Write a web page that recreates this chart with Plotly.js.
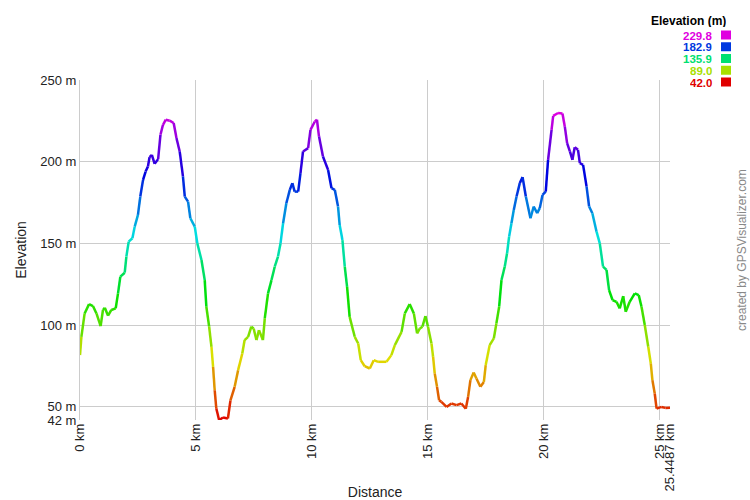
<!DOCTYPE html>
<html><head><meta charset="utf-8">
<script src="https://cdn.plot.ly/plotly-3.0.1.min.js"></script>
<style>html,body{margin:0;padding:0;background:#fff}#chart{width:750px;height:500px}</style>
</head><body><div id="chart"></div>
<script>
const distKm = [0.00,0.06,0.20,0.39,0.56,0.71,0.89,0.99,1.07,1.21,1.35,1.54,1.64,1.74,1.93,2.00,2.10,2.26,2.36,2.50,2.60,2.72,2.83,2.93,3.00,3.10,3.22,3.37,3.47,3.58,3.70,3.87,4.04,4.16,4.30,4.44,4.52,4.66,4.76,4.95,5.06,5.24,5.38,5.45,5.57,5.67,5.74,5.81,5.88,6.00,6.17,6.38,6.49,6.67,6.82,7.00,7.10,7.25,7.39,7.49,7.61,7.72,7.89,7.97,8.11,8.26,8.40,8.54,8.65,8.76,8.90,9.05,9.16,9.26,9.41,9.51,9.62,9.84,9.94,10.13,10.22,10.31,10.48,10.70,10.85,10.99,11.13,11.20,11.32,11.42,11.52,11.63,11.85,12.00,12.11,12.28,12.50,12.67,12.86,13.22,13.43,13.58,13.87,14.01,14.22,14.40,14.54,14.66,14.77,14.90,15.01,15.16,15.23,15.30,15.40,15.49,15.59,15.81,16.02,16.24,16.45,16.64,16.74,16.84,16.98,17.10,17.27,17.42,17.50,17.67,17.85,17.96,18.08,18.18,18.32,18.42,18.51,18.61,18.71,18.83,18.97,19.09,19.23,19.43,19.57,19.72,19.83,19.95,20.09,20.19,20.34,20.41,20.62,20.81,20.91,21.01,21.13,21.24,21.34,21.48,21.56,21.70,21.85,21.96,22.10,22.28,22.42,22.56,22.71,22.82,22.97,23.14,23.28,23.43,23.54,23.71,23.93,24.10,24.22,24.36,24.51,24.62,24.69,24.79,24.87,25.08,25.25,25.4487];
const elevM = [81.7,92.9,107.2,112.9,111.7,107.2,99.4,109.3,110.7,105.8,109.3,110.3,119.5,129.7,132.1,142.0,151.1,153.2,160.3,167.5,178.7,188.9,194.0,197.1,202.8,204.2,198.7,201.6,216.5,222.6,225.7,225.1,223.7,214.5,206.3,191.0,178.7,175.6,165.4,160.3,150.1,139.9,127.6,111.3,99.1,86.8,74.5,60.2,49.0,42.0,43.5,42.9,54.0,62.3,72.5,82.7,90.9,92.9,99.1,98.0,90.9,97.0,90.9,104.2,119.5,127.6,135.8,142.0,150.1,162.4,174.6,182.8,186.9,181.7,181.7,193.0,206.3,208.3,219.5,224.6,225.7,215.4,203.2,195.0,183.8,182.8,172.6,161.3,152.1,135.8,123.5,105.1,92.9,88.8,78.6,74.9,73.5,78.6,77.6,77.6,81.7,87.8,95.9,107.2,112.9,107.2,95.0,98.0,99.1,105.6,99.1,88.8,80.7,70.5,62.3,54.1,53.1,50.0,52.1,51.1,52.1,48.9,56.1,66.4,71.1,67.4,62.3,65.3,75.6,87.8,91.9,101.1,111.3,127.6,135.8,144.0,154.2,162.4,170.5,178.7,186.9,190.6,178.7,165.4,172.6,168.5,171.6,179.7,181.7,201.2,219.5,228.1,229.8,229.5,221.6,211.4,206.3,201.2,208.9,207.3,199.1,198.1,184.8,172.6,168.5,157.2,150.1,135.8,133.8,121.5,115.4,114.3,110.3,117.8,108.2,114.3,119.5,118.4,111.3,100.1,86.8,76.6,66.4,58.2,49.0,50.0,49.4,49.5];
const legendValues = [229.8,182.9,135.9,89.0,42.0];
const xTickVals = [0,5,10,15,20,25,25.4487];
const xTickText = ["0 km","5 km","10 km","15 km","20 km","25 km","25.4487 km"];
const yTickVals = [42,50,100,150,200,250];
const yTickText = ["42 m","50 m","100 m","150 m","200 m","250 m"];

const eMin = Math.min(...legendValues), eMax = Math.max(...legendValues);
function elevColor(e){
  const t = Math.max(0, Math.min(1, (e - eMin)/(eMax - eMin)));
  return 'hsl(' + (300*t).toFixed(1) + ',100%,44%)';
}

const traces = [];
for (let i = 0; i < distKm.length - 1; i++){
  traces.push({
    type:'scatter', mode:'lines',
    x:[distKm[i], distKm[i+1]], y:[elevM[i], elevM[i+1]],
    line:{color: elevColor((elevM[i]+elevM[i+1])/2), width:2.5},
    hoverinfo:'skip', showlegend:false
  });
}

const L = 80, T = 80, W = 590, H = 340;
const px2x = p => (p - L)/W;
const px2y = p => (T + H - p)/H;

const annotations = [{
  xref:'paper', yref:'paper', x:px2x(728), y:px2y(21), xanchor:'right', yanchor:'middle',
  text:'<b>Elevation (m)</b>', showarrow:false, height:12, font:{family:'Liberation Sans, Arial, sans-serif', size:12, color:'#000'}
},{
  xref:'paper', yref:'paper', x:px2x(742), y:px2y(250), xanchor:'center', yanchor:'middle',
  text:'created by GPSVisualizer.com', textangle:-90, showarrow:false,
  font:{family:'Liberation Sans, Arial, sans-serif', size:12, color:'#888'}
}];
const shapes = [];
legendValues.forEach((v, k) => {
  const cy = 35 + k*11.75;
  const c = elevColor(v);
  annotations.push({
    xref:'paper', yref:'paper', x:px2x(714), y:px2y(cy), xanchor:'right', yanchor:'middle',
    text:'<b>' + v.toFixed(1) + '</b>', showarrow:false, height:11, valign:'middle',
    font:{family:'Liberation Sans, Arial, sans-serif', size:11.5, color:c}
  });
  shapes.push({type:'rect', xref:'paper', yref:'paper',
    x0:px2x(721), x1:px2x(731), y0:px2y(cy+4.5), y1:px2y(cy-4.5),
    fillcolor:c, line:{width:0}});
});

const layout = {
  width:750, height:500,
  margin:{l:L, r:750-L-W, t:T, b:500-T-H, pad:0},
  paper_bgcolor:'#fff', plot_bgcolor:'#fff',
  font:{family:'Liberation Sans, Arial, sans-serif', size:13, color:'#222'},
  showlegend:false,
  xaxis:{range:[0,25.4487], tickvals:xTickVals, ticktext:xTickText, tickangle:-90,
    showgrid:true, gridcolor:'#cccccc', gridwidth:1, zeroline:false, showline:false, ticks:'',
    tickfont:{size:13, color:'#222'},
    title:{text:'Distance', font:{size:14, color:'#222'}, standoff:30}},
  yaxis:{range:[42,250], tickvals:yTickVals, ticktext:yTickText,
    showgrid:true, gridcolor:'#cccccc', gridwidth:1, zeroline:false, showline:true, linecolor:'#cccccc', ticks:'',
    tickfont:{size:13, color:'#222'},
    title:{text:'Elevation', font:{size:14, color:'#222'}, standoff:10}},
  annotations:annotations, shapes:shapes
};
Plotly.newPlot('chart', traces, layout, {staticPlot:true, displayModeBar:false});
</script></body></html>
